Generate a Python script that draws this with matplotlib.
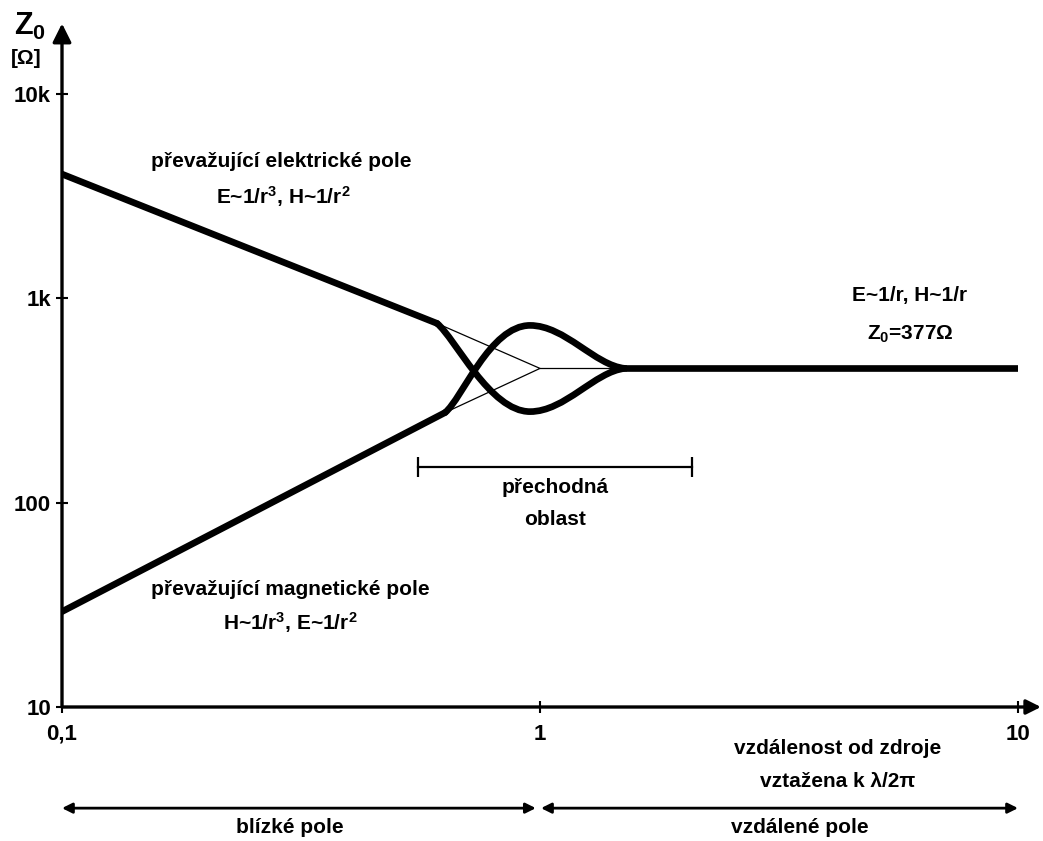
import matplotlib.pyplot as plt
from matplotlib.path import Path
from matplotlib.patches import PathPatch
from matplotlib.ticker import NullLocator

plt.rcParams['font.family'] = ['Liberation Sans', 'DejaVu Sans']
plt.rcParams['font.weight'] = 'bold'
plt.rcParams['mathtext.fontset'] = 'custom'
plt.rcParams['mathtext.rm'] = 'Liberation Sans:bold'
plt.rcParams['mathtext.it'] = 'Liberation Sans:bold'
plt.rcParams['mathtext.bf'] = 'Liberation Sans:bold'

# ---- hodnoty ----
# přímky blízkého pole (r, Z0)
el_r = [0.1, 0.609]
el_z = [4055, 754]
mag_r = [0.1, 0.633]
mag_z = [29.3, 276]

# tenké pokračování přímek do bodu (1, Z0)
thin_r = [0.609, 1.0, 0.633]
thin_z = [754, 454, 276]
thin_h_r = [1.0, 1.506]
thin_h_z = [454, 454]

# přechodová oblast - řídicí body Bézierových křivek
curve_a_r = [0.609, 0.664, 0.786, 0.953, 1.128, 1.303, 1.506]
curve_a_z = [754, 640, 279, 279, 279, 439, 454]
curve_b_r = [0.633, 0.687, 0.786, 0.953, 1.128, 1.303, 1.506]
curve_b_z = [276, 322, 737, 737, 737, 469, 454]

# vzdálené pole
far_r = [1.506, 10.24]
far_z = [454, 454]

# úsečka přechodné oblasti
trans_r = [0.556, 2.08]
trans_z = [150, 150]

xticks = [0.1, 1, 10]
xlabels = ['0,1', '1', '10']
yticks = [10, 100, 1000, 10000]
ylabels = ['10', '100', '1k', '10k']

fig = plt.figure(figsize=(10.43, 8.41), dpi=100)
ax = fig.add_axes([62/1043, 134/841, 956/1043, 613/841])
ax.set_xscale('log')
ax.set_yscale('log')
ax.set_xlim(0.1, 10)
ax.set_ylim(10, 10000)
for s in ax.spines.values():
    s.set_visible(False)

thick = 4.8
thin = 0.9

ax.plot(el_r, el_z, color='k', lw=thick, solid_capstyle='round')
ax.plot(mag_r, mag_z, color='k', lw=thick, solid_capstyle='round')
ax.plot(thin_r, thin_z, color='k', lw=thin)
ax.plot(thin_h_r, thin_h_z, color='k', lw=thin)
ax.plot(far_r, far_z, color='k', lw=thick, solid_capstyle='butt')

codes = [Path.MOVETO] + [Path.CURVE4] * 6
for cr, cz in [(curve_a_r, curve_a_z), (curve_b_r, curve_b_z)]:
    p = Path(list(zip(cr, cz)), codes)
    ax.add_patch(PathPatch(p, facecolor='none', edgecolor='k', lw=thick,
                           capstyle='round'))

ax.plot(trans_r, trans_z, color='k', lw=1.6, marker='|', markersize=14,
        markeredgewidth=1.6)

# osy se šipkami
ax.annotate('', xy=(0, 1.115), xytext=(0, 0), xycoords='axes fraction',
            arrowprops=dict(arrowstyle='-|>', lw=2.4, color='k',
                            mutation_scale=28, shrinkA=0, shrinkB=0),
            annotation_clip=False)
ax.annotate('', xy=(1.024, 0), xytext=(0, 0), xycoords='axes fraction',
            arrowprops=dict(arrowstyle='-|>', lw=2.4, color='k',
                            mutation_scale=22, shrinkA=0, shrinkB=0),
            annotation_clip=False)

ax.set_xticks(xticks, xlabels)
ax.set_yticks(yticks, ylabels)
ax.xaxis.set_minor_locator(NullLocator())
ax.yaxis.set_minor_locator(NullLocator())
ax.tick_params(direction='inout', length=8, width=1.5, labelsize=16)
ax.tick_params(axis='x', pad=8)
ax.tick_params(axis='y', pad=4)

fs = 15
ax.text(0.287, 4700, 'převažující elektrické pole', ha='center', va='center', fontsize=fs)
ax.text(0.29, 3162, r'E~1/r$^\mathregular{3}$, H~1/r$^\mathregular{2}$', ha='center', va='center', fontsize=fs)
ax.text(0.30, 37.5, 'převažující magnetické pole', ha='center', va='center', fontsize=fs)
ax.text(0.30, 25.8, r'H~1/r$^\mathregular{3}$, E~1/r$^\mathregular{2}$', ha='center', va='center', fontsize=fs)
ax.text(5.94, 1034, 'E~1/r, H~1/r', ha='center', va='center', fontsize=fs)
ax.text(5.94, 666, r'Z$_\mathregular{0}$=377Ω', ha='center', va='center', fontsize=fs)
ax.text(1.075, 118, 'přechodná', ha='center', va='center', fontsize=fs)
ax.text(1.075, 82.5, 'oblast', ha='center', va='center', fontsize=fs)

tr = ax.get_xaxis_transform()
ax.text(4.2, -0.067, 'vzdálenost od zdroje', transform=tr, ha='center', va='center', fontsize=fs)
ax.text(4.2, -0.122, 'vztažena k λ/2π', transform=tr, ha='center', va='center', fontsize=fs)
ax.text(0.30, -0.197, 'blízké pole', transform=tr, ha='center', va='center', fontsize=fs)
ax.text(3.5, -0.197, 'vzdálené pole', transform=tr, ha='center', va='center', fontsize=fs)

for a, b in [(0.1, 0.98), (1.005, 10)]:
    ax.annotate('', xy=(b, -0.165), xytext=(a, -0.165), xycoords=tr,
                arrowprops=dict(arrowstyle='<|-|>', lw=2.0, color='k',
                                mutation_scale=15, shrinkA=0, shrinkB=0),
                annotation_clip=False)

ax.text(-0.033, 1.11, r'Z$_\mathregular{0}$', transform=ax.transAxes, ha='center', va='center', fontsize=22)
ax.text(-0.037, 1.058, '[Ω]', transform=ax.transAxes, ha='center', va='center', fontsize=15)

fig.savefig('out.png', dpi=100)
